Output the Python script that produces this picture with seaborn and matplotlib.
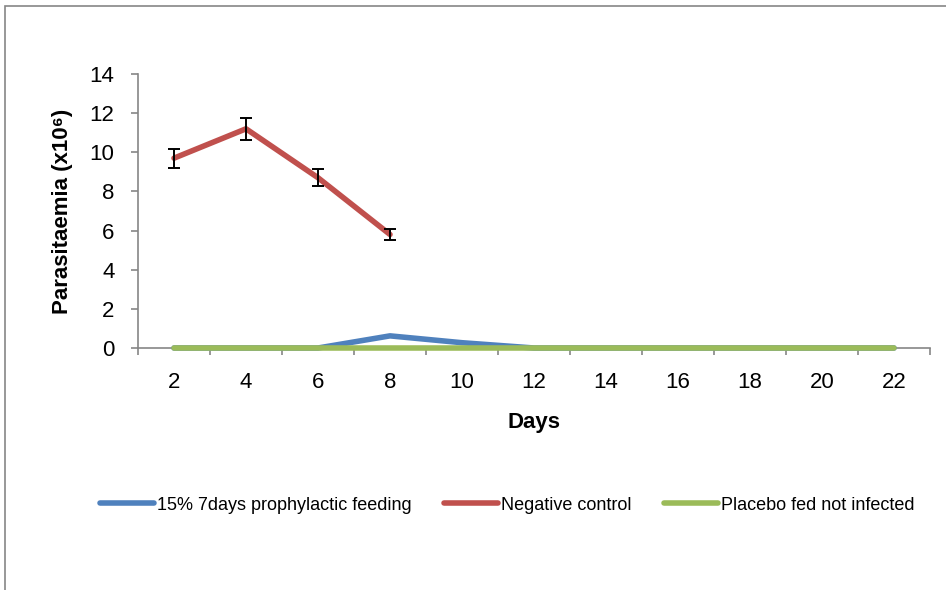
import matplotlib
matplotlib.use("Agg")
import matplotlib.pyplot as plt
import seaborn as sns
import pandas as pd
import numpy as np
from matplotlib.patches import Rectangle

days = [2, 4, 6, 8, 10, 12, 14, 16, 18, 20, 22]
prophylactic = [0, 0, 0, 0.62, 0.27, 0, 0, 0, 0, 0, 0]
neg_days = [2, 4, 6, 8]
negative = [9.7, 11.2, 8.7, 5.8]
negative_err = [0.48, 0.55, 0.43, 0.29]
placebo = [0, 0, 0, 0, 0, 0, 0, 0, 0, 0, 0]

names = ["15% 7days prophylactic feeding", "Negative control", "Placebo fed not infected"]
colors = ["#4F81BD", "#C0504D", "#9BBB59"]

df = pd.concat([
    pd.DataFrame({"Days": days, "val": prophylactic, "series": names[0]}),
    pd.DataFrame({"Days": neg_days, "val": negative, "series": names[1]}),
    pd.DataFrame({"Days": days, "val": placebo, "series": names[2]}),
])

sns.set_theme(style="white")
plt.rcParams['font.family'] = ['Liberation Sans', 'DejaVu Sans']
plt.rcParams['text.color'] = 'black'
plt.rcParams['axes.labelcolor'] = 'black'

fig = plt.figure(figsize=(9.46, 5.90), dpi=100)
ax = fig.add_axes([138/946, 1-348/590, (930-138)/946, (348-74)/590])

sns.lineplot(data=df, x="Days", y="val", hue="series", hue_order=names,
             palette=colors, linewidth=4.0, ax=ax, legend=True, sort=False)
for ln in ax.lines:
    ln.set_solid_capstyle("round")
    ln.set_solid_joinstyle("round")
    ln.set_clip_on(False)
    ln.set_zorder(3)
ax.errorbar(neg_days, negative, yerr=negative_err, fmt="none", ecolor="black",
            elinewidth=1.4, capsize=4, capthick=1.4, zorder=5)

ax.set_xlim(1, 23)
ax.set_ylim(0, 14)
ax.set_yticks(np.arange(0, 15, 2))
ax.set_xticks(days)
ax.set_xticklabels([str(d) for d in days])
ax.set_xticks(np.arange(1, 24, 2), minor=True)
ax.tick_params(axis='x', which='major', length=0, pad=17, labelsize=16, colors='black')
ax.tick_params(axis='x', which='minor', length=5, width=1.2, color='#868686', direction='out', bottom=True)
ax.tick_params(axis='y', which='major', length=5, width=1.2, color='#868686', direction='out',
               labelsize=16, labelcolor='black', left=True, pad=12)

for s in ['top', 'right']:
    ax.spines[s].set_visible(False)
for s in ['left', 'bottom']:
    ax.spines[s].set_color('#868686')
    ax.spines[s].set_linewidth(1.2)
    ax.spines[s].set_zorder(1)

ax.set_xlabel("Days", fontsize=16, fontweight='bold', labelpad=14)
ax.set_ylabel("Parasitaemia (x10\u2076)", fontsize=16, fontweight='bold', labelpad=12)

handles, labels = ax.get_legend_handles_labels()
ax.legend(handles, labels, loc='center', bbox_to_anchor=(507/946, 1-505/590),
          bbox_transform=fig.transFigure, ncol=3, frameon=False, fontsize=13,
          handlelength=3.0, handletextpad=0.15, columnspacing=1.8)

fig.patches.append(Rectangle((5/946, -0.1), 1.2, 1.1 - 6/590, transform=fig.transFigure,
                             fill=False, edgecolor='#868686', linewidth=1.2))

fig.savefig("out.png", dpi=100)
